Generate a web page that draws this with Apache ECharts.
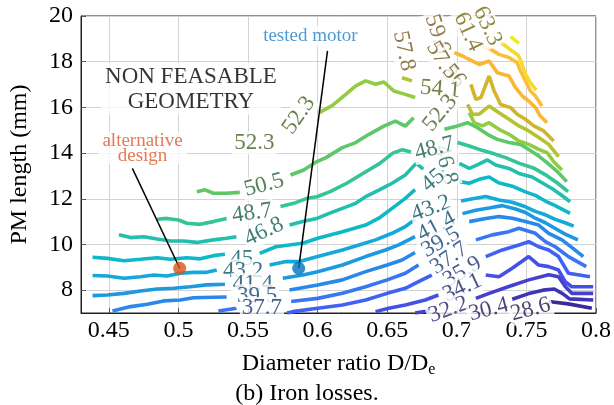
<!DOCTYPE html>
<html>
<head>
<meta charset="utf-8">
<script src="https://cdn.jsdelivr.net/npm/echarts@6/dist/echarts.min.js"></script>
<style>
  html, body { margin: 0; background: #fff; }
  #chart { width: 614px; height: 405px; }
</style>
</head>
<body>
<div id="chart"></div>
<script>
// contour levels of the iron losses, low to high
const levels = [28.6, 30.4, 32.2, 34.1, 35.9, 37.7, 39.5, 41.4, 43.2, 45, 46.8, 48.7, 50.5, 52.3, 54.1, 56, 57.8, 59.6, 61.4, 63.3];

// each level: list of visible pieces [D/De, PM length], gaps are where the labels sit
const c28_6 = [[[0.766, 7.50], [0.780, 7.40], [0.797, 7.21]]];
const c30_4 = [[[0.7398, 7.60], [0.7517, 7.85], [0.762, 8.00], [0.770, 8.05], [0.776, 7.85], [0.781, 7.62], [0.798, 7.57]]];
const c32_2 = [
  [[0.670, 7.00], [0.680, 7.10]],
  [[0.7137, 7.64], [0.7232, 7.86], [0.7374, 8.16], [0.7517, 8.45], [0.766, 8.67], [0.7731, 8.59], [0.7779, 8.16], [0.7826, 7.86], [0.798, 7.86]]
];
const c34_1 = [
  [[0.6416, 7.06], [0.6511, 7.21], [0.663, 7.35], [0.6773, 7.57], [0.6868, 7.79]],
  [[0.7208, 8.66], [0.7303, 8.59], [0.7398, 8.96], [0.7517, 9.47], [0.7588, 9.10], [0.766, 9.03], [0.7731, 8.88], [0.7779, 8.37], [0.7826, 8.15], [0.798, 8.15]]
];
const c35_9 = [
  [[0.578, 7.00], [0.5822, 7.06], [0.600, 7.21], [0.6178, 7.35], [0.6345, 7.57], [0.650, 7.86], [0.663, 8.08], [0.6725, 8.37], [0.682, 8.66]],
  [[0.7208, 9.47], [0.7327, 9.76], [0.7446, 9.98], [0.7517, 10.12], [0.7588, 9.90], [0.766, 9.76], [0.7731, 9.47], [0.7802, 8.74], [0.7957, 8.59]]
];
const c37_7 = [
  [[0.5287, 7.09], [0.5417, 7.21]],
  [[0.581, 7.50], [0.600, 7.64], [0.6178, 7.86], [0.6345, 8.15], [0.650, 8.45], [0.663, 8.74], [0.6725, 9.10]],
  [[0.7137, 10.20], [0.7255, 10.42], [0.7374, 10.56], [0.7446, 10.71], [0.7564, 10.49], [0.7636, 10.12], [0.7707, 9.90], [0.7802, 9.47], [0.793, 9.03]]
];
const c39_5 = [
  [[0.4526, 7.09], [0.4657, 7.28], [0.4776, 7.38], [0.4894, 7.53], [0.5013, 7.57], [0.5108, 7.67], [0.5251, 7.69], [0.5346, 7.70]],
  [[0.5798, 8.01], [0.600, 8.23], [0.6178, 8.45], [0.6345, 8.81], [0.650, 9.10], [0.6607, 9.32], [0.670, 9.65]],
  [[0.7089, 11.00], [0.7208, 11.14], [0.7303, 11.22], [0.7398, 11.15], [0.7493, 11.00], [0.7588, 10.85], [0.766, 10.49], [0.7755, 10.20], [0.783, 9.85], [0.7909, 9.47]]
];
const c41_4 = [
  [[0.4383, 7.76], [0.449, 7.79], [0.4609, 7.86], [0.4728, 7.96], [0.4847, 8.05], [0.4966, 8.08], [0.5085, 8.15], [0.5203, 8.23], [0.5334, 8.26]],
  [[0.575, 8.52], [0.5893, 8.66], [0.600, 8.81], [0.6178, 9.10], [0.6345, 9.47], [0.6488, 9.76], [0.6583, 9.98], [0.670, 10.34]],
  [[0.7041, 11.35], [0.7136, 11.50], [0.7232, 11.60], [0.7327, 11.70], [0.7422, 11.55], [0.7493, 11.40], [0.7564, 11.15], [0.7636, 10.95], [0.7707, 10.70], [0.7778, 10.45], [0.787, 10.20]]
];
const c43_2 = [
  [[0.4383, 8.64], [0.449, 8.62], [0.4609, 8.52], [0.4728, 8.59], [0.4823, 8.66], [0.4918, 8.62], [0.5013, 8.74], [0.5108, 8.78], [0.5203, 8.78], [0.5275, 8.88]],
  [[0.5655, 9.10], [0.5774, 9.25], [0.5869, 9.25], [0.600, 9.47], [0.6178, 9.76], [0.6297, 9.98], [0.6416, 10.20], [0.6535, 10.49], [0.663, 10.78], [0.670, 11.10]],
  [[0.703, 11.90], [0.7113, 12.00], [0.7208, 12.10], [0.7303, 11.95], [0.7398, 11.85], [0.7493, 11.65], [0.7564, 11.45], [0.7636, 11.30], [0.7707, 11.10], [0.7778, 10.95], [0.784, 10.80]]
];
const c45 = [
  [[0.4383, 9.44], [0.449, 9.39], [0.4609, 9.29], [0.4728, 9.35], [0.4847, 9.42], [0.4942, 9.35], [0.5061, 9.42], [0.5156, 9.37], [0.5251, 9.51], [0.5334, 9.57]],
  [[0.5584, 9.61], [0.570, 9.90], [0.5893, 10.05], [0.600, 10.27], [0.6178, 10.56], [0.6345, 10.85], [0.644, 11.15], [0.6535, 11.58], [0.663, 12.02], [0.670, 12.40]],
  [[0.7018, 12.75], [0.7089, 12.68], [0.716, 12.85], [0.7232, 12.95], [0.730, 12.70], [0.7398, 12.55], [0.7493, 12.30], [0.7564, 12.15], [0.7636, 11.90], [0.7707, 11.70], [0.7814, 11.36]]
];
const c46_8 = [
  [[0.4573, 10.42], [0.4657, 10.30], [0.4752, 10.34], [0.4847, 10.24], [0.4942, 10.15], [0.5037, 10.15], [0.5132, 10.09], [0.5251, 10.20], [0.5346, 10.27], [0.5417, 10.34]],
  [[0.5798, 10.85], [0.5893, 11.00], [0.600, 11.15], [0.6083, 11.36], [0.6178, 11.58], [0.6273, 11.80], [0.6345, 12.09], [0.644, 12.38], [0.6535, 12.68], [0.663, 13.04], [0.6708, 13.55], [0.676, 13.30]],
  [[0.7018, 13.55], [0.7089, 13.33], [0.7148, 13.48], [0.722, 13.70], [0.7279, 13.48], [0.7374, 13.33], [0.7446, 13.11], [0.7541, 12.95], [0.7612, 12.70], [0.7683, 12.45], [0.7743, 12.20], [0.7814, 11.87]]
];
const c48_7 = [
  [[0.4847, 11.10], [0.4918, 11.14], [0.5001, 11.07], [0.5061, 10.93], [0.5156, 10.88], [0.5251, 11.00], [0.5346, 11.14]],
  [[0.5733, 11.66], [0.5828, 11.80], [0.5923, 12.02], [0.5995, 12.09], [0.609, 12.31], [0.6209, 12.68], [0.6328, 13.12], [0.6447, 13.55], [0.654, 14.00], [0.661, 14.15], [0.667, 14.05]],
  [[0.7006, 14.46], [0.7089, 14.31], [0.7161, 14.16], [0.725, 14.00], [0.735, 13.80], [0.745, 13.55], [0.755, 13.35], [0.765, 13.00], [0.772, 12.70], [0.780, 12.31]]
];
const c50_5 = [
  [[0.5132, 12.31], [0.5192, 12.39], [0.5251, 12.24], [0.5346, 12.24], [0.5441, 12.28]],
  [[0.5805, 13.04], [0.590, 13.26], [0.5995, 13.63], [0.606, 13.80], [0.6178, 14.24], [0.6274, 14.46], [0.6369, 14.82], [0.6476, 15.18], [0.6559, 15.40], [0.663, 15.18], [0.669, 15.55]],
  [[0.6911, 15.04], [0.7006, 15.19], [0.7077, 15.33], [0.7149, 15.11], [0.722, 14.82], [0.7291, 14.60], [0.7375, 14.46], [0.7458, 14.38], [0.7517, 14.16], [0.7589, 13.87], [0.7648, 13.58], [0.772, 13.20], [0.779, 12.75]]
];
const c52_3 = [
  [[0.6012, 15.77], [0.6107, 16.09], [0.6202, 16.57], [0.6274, 16.94], [0.6345, 17.16], [0.6416, 17.01], [0.6476, 17.11], [0.6547, 16.72], [0.663, 16.57], [0.6701, 16.43]],
  [[0.7089, 15.77], [0.7125, 15.33], [0.7184, 15.19], [0.7232, 15.33], [0.7303, 15.04], [0.7375, 14.82], [0.7446, 14.53], [0.7517, 14.38], [0.7589, 14.16], [0.7648, 14.02], [0.770, 13.60], [0.7755, 13.26]]
];
const c54_1 = [
  [[0.6606, 17.30], [0.6678, 17.16]],
  [[0.7077, 16.13], [0.7113, 15.70], [0.7161, 15.70], [0.7232, 16.06], [0.7303, 15.77], [0.7375, 15.48], [0.7446, 15.19], [0.7517, 14.97], [0.7589, 14.68], [0.766, 14.38], [0.7731, 13.84]]
];
const c56 = [[[0.7101, 17.01], [0.7137, 16.35], [0.7173, 16.43], [0.7232, 17.37], [0.7268, 16.72], [0.7315, 16.13], [0.7387, 15.99], [0.7434, 15.70], [0.7493, 15.48], [0.7553, 15.19], [0.7624, 14.97], [0.7696, 14.53]]];
const c57_8 = [[[0.6982, 18.40], [0.7042, 18.25], [0.7089, 18.10], [0.7161, 17.88], [0.7232, 18.03], [0.7291, 17.52], [0.7375, 17.37], [0.7422, 16.86], [0.747, 16.50], [0.7517, 16.28], [0.7565, 15.99], [0.760, 15.62], [0.7648, 15.33]]];
const c59_6 = [[[0.7184, 18.69], [0.7244, 18.54], [0.7303, 18.32], [0.7375, 18.18], [0.7434, 17.96], [0.7458, 17.59], [0.7493, 17.16], [0.7529, 16.72], [0.7565, 16.50], [0.7612, 16.06]]];
const c61_4 = [[[0.7315, 18.86], [0.7375, 18.57], [0.7441, 18.28], [0.7465, 17.96], [0.7493, 17.45], [0.7529, 17.08], [0.757, 16.76]]];
const c63_3 = [[[0.7387, 19.10], [0.7446, 18.80]]];

const contourLines = [c28_6, c30_4, c32_2, c34_1, c35_9, c37_7, c39_5, c41_4, c43_2, c45,
  c46_8, c48_7, c50_5, c52_3, c54_1, c56, c57_8, c59_6, c61_4, c63_3];

// inline contour labels [D/De, PM length, text]
const contourLabels = [
  [0.5545, 14.45, '52.3'], [0.5865, 15.65, '52.3'], [0.5615, 12.6, '50.5'], [0.553, 11.37, '48.7'],
  [0.5615, 10.56, '46.8'], [0.5455, 9.35, '45'], [0.5465, 8.85, '43.2'], [0.5535, 8.26, '41.4'],
  [0.5565, 7.75, '39.5'], [0.560, 7.2, '37.7'],
  [0.722, 19.56, '63.3'], [0.708, 19.3, '61.4'], [0.686, 19.2, '59.6'], [0.662, 18.47, '57.8'],
  [0.689, 18.05, '57.8'], [0.698, 17.37, '56'], [0.688, 16.8, '54.1'], [0.688, 15.75, '52.3'],
  [0.692, 13.5, '46.8'], [0.684, 14.2, '48.7'], [0.683, 12.8, '45'], [0.6815, 11.58, '43.2'],
  [0.6855, 10.78, '41.4'], [0.6885, 10.1, '39.5'], [0.6946, 9.4, '37.7'], [0.704, 8.8, '35.9'],
  [0.704, 8.1, '34.1'], [0.694, 7.15, '32.2'], [0.723, 7.15, '30.4'], [0.753, 7.15, '28.6']
];
const labelAngles = [0, 55, 15, 8, 25, 0, 0, 0, 0, 0,
  -65, -65, -72, -78, -60, -50, -5, 50,
  -75, 15, 40, 20, 28, 30, 35, 30, 25, 20, 15, 15];

// marked designs
const testedMotor = [0.5864, 8.96];
const altDesign = [0.5009, 8.96];
const testedLeader = [[0.6071, 18.47], [0.5864, 8.96]];
const altLeader = [[0.4669, 13.33], [0.5009, 8.96]];

const xTicks = [0.45, 0.5, 0.55, 0.6, 0.65, 0.7, 0.75, 0.8];
const yTicks = [8, 10, 12, 14, 16, 18, 20];

// parula-like colours, one per level
const lineColors = ['#3b2a98', '#3f33b8', '#4640d0', '#4450e6', '#3f62f4', '#3a76f2', '#2889ea', '#1d99e0', '#14a9d8', '#0fb8c8',
  '#22bfae', '#33c49a', '#5cc86a', '#92cb44', '#b6c232', '#d1b52a', '#fbb635', '#fbbe3b', '#f6da2a', '#f3ec18'];

const font = 'Liberation Serif';

function darken(hex, k) {
  const n = parseInt(hex.slice(1), 16);
  const r = Math.round(((n >> 16) & 255) * k), g = Math.round(((n >> 8) & 255) * k), b = Math.round((n & 255) * k);
  return 'rgb(' + r + ',' + g + ',' + b + ')';
}

const chart = echarts.init(document.getElementById('chart'));
const series = [];

contourLines.forEach(function (pieces, i) {
  pieces.forEach(function (p) {
    series.push({
      type: 'line', data: p, showSymbol: false, symbol: 'none', silent: true, z: 2,
      lineStyle: { color: lineColors[i], width: 3.6 }
    });
  });
});

series.push({
  type: 'scatter', symbolSize: 0, silent: true, z: 3,
  data: contourLabels.map(function (l, k) {
    const c = lineColors[levels.indexOf(parseFloat(l[2]))];
    return {
      value: [l[0], l[1]],
      label: { show: true, position: 'inside', rotate: labelAngles[k], formatter: l[2], color: darken(c, 0.48) }
    };
  }),
  label: { fontFamily: font, fontSize: 23, backgroundColor: '#fff', padding: [0, 2] }
});

// leader lines + dots
series.push({ type: 'line', data: testedLeader, showSymbol: false, symbol: 'none', silent: true, z: 4, lineStyle: { color: '#000', width: 1.5 } });
series.push({ type: 'line', data: altLeader, showSymbol: false, symbol: 'none', silent: true, z: 4, lineStyle: { color: '#000', width: 1.5 } });
series.push({ type: 'scatter', data: [testedMotor], symbolSize: 13, z: 5, itemStyle: { color: '#0072bd' } });
series.push({ type: 'scatter', data: [altDesign], symbolSize: 13, z: 5, itemStyle: { color: '#d95319' } });

// text annotations
series.push({
  type: 'scatter', symbolSize: 0, silent: true, z: 3,
  data: [
    { value: [0.5948, 19.12], label: { formatter: 'tested motor', color: '#1f7fc8', fontSize: 19 } },
    { value: [0.4742, 14.22], label: { formatter: 'alternative\ndesign', color: '#e0562a', fontSize: 19, lineHeight: 15 } },
    { value: [0.509, 16.8], label: { formatter: 'NON FEASABLE\nGEOMETRY', color: '#000', fontSize: 23, lineHeight: 25 } }
  ],
  label: { show: true, position: 'inside', fontFamily: font, backgroundColor: '#fff', padding: [1, 4] }
});

chart.setOption({
  animation: false,
  title: {
    text: '(b) Iron losses.', left: 'center', top: 377,
    textStyle: { fontFamily: font, fontSize: 24, fontWeight: 'normal', color: '#000' }
  },
  grid: { left: 79, right: 16, top: 16, bottom: 92, show: true, borderColor: '#222', borderWidth: 1 },
  xAxis: {
    type: 'value', min: 0.43, max: 0.8,
    name: '{a|Diameter ratio D/D}{s|e}', nameLocation: 'middle', nameGap: 36,
    nameTextStyle: {
      rich: {
        a: { fontFamily: font, fontSize: 24, color: '#000' },
        s: { fontFamily: font, fontSize: 16, color: '#000', padding: [13, 0, 0, 0] }
      }
    },
    axisLine: { lineStyle: { color: '#222' } },
    axisTick: { inside: true, length: 5, customValues: xTicks, lineStyle: { color: '#555' } },
    axisLabel: {
      customValues: xTicks, fontFamily: font, fontSize: 24, color: '#000', margin: 6,
      formatter: function (v) { return String(+v.toFixed(2)); }
    },
    splitLine: { show: true, lineStyle: { color: '#d2d2d2', width: 1 } }
  },
  yAxis: {
    type: 'value', min: 7, max: 20,
    name: 'PM length (mm)', nameLocation: 'middle', nameGap: 49,
    nameTextStyle: { fontFamily: font, fontSize: 24, color: '#000' },
    axisLine: { lineStyle: { color: '#222' } },
    axisTick: { inside: true, length: 5, customValues: yTicks, lineStyle: { color: '#555' } },
    axisLabel: { customValues: yTicks, fontFamily: font, fontSize: 24, color: '#000', margin: 8 },
    splitLine: { show: true, lineStyle: { color: '#d2d2d2', width: 1 } }
  },
  series: series
});
</script>
</body>
</html>
